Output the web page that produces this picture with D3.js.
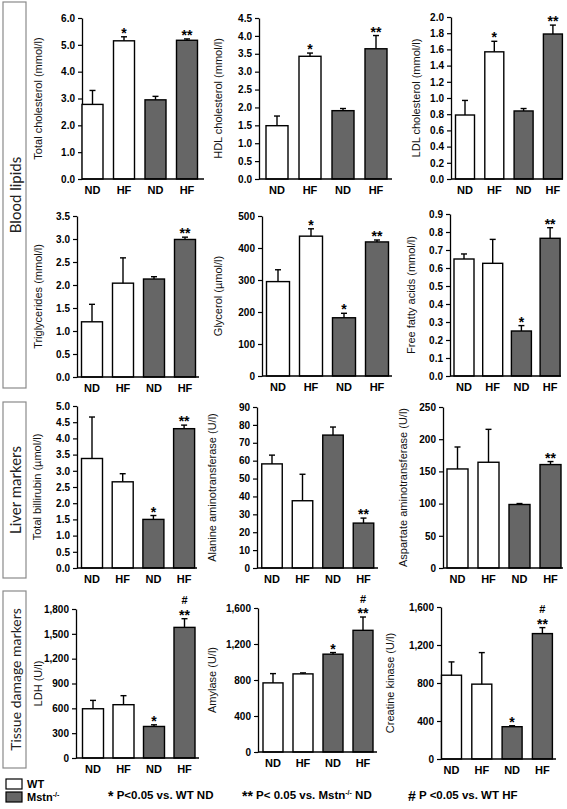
<!DOCTYPE html>
<html><head><meta charset="utf-8">
<script src="https://cdn.jsdelivr.net/npm/d3@7"></script>
<style>body{margin:0;background:#fff}svg{display:block}</style>
</head><body>
<svg id="c" width="567" height="809"></svg>
<script>
// ---------- data ----------
const categories = ["ND", "HF", "ND", "HF"];
const genotype = ["WT", "WT", "Mstn", "Mstn"];

const tcMean = [2.78, 5.15, 2.95, 5.17], tcErr = [3.30, 5.30, 3.08, 5.22], tcStar = ["", "*", "", "**"];
const hdlMean = [1.49, 3.43, 1.91, 3.64], hdlErr = [1.76, 3.52, 1.97, 4.01], hdlStar = ["", "*", "", "**"];
const ldlMean = [0.79, 1.57, 0.84, 1.79], ldlErr = [0.97, 1.70, 0.87, 1.90], ldlStar = ["", "*", "", "**"];
const tgMean = [1.20, 2.04, 2.13, 2.99], tgErr = [1.58, 2.59, 2.18, 3.04], tgStar = ["", "", "", "**"];
const glyMean = [295, 437, 182, 419], glyErr = [332, 460, 196, 425], glyStar = ["", "*", "*", "**"];
const ffaMean = [0.65, 0.626, 0.25, 0.765], ffaErr = [0.678, 0.759, 0.28, 0.824], ffaStar = ["", "", "*", "**"];
const biliMean = [3.38, 2.66, 1.50, 4.30], biliErr = [4.66, 2.91, 1.62, 4.41], biliStar = ["", "", "*", "**"];
const altMean = [58.2, 37.6, 74.3, 25.1], altErr = [63.1, 52.4, 78.8, 27.9], altStar = ["", "", "", "**"];
const astMean = [153.8, 164.2, 98.6, 160.6], astErr = [187.9, 215.3, 100.1, 165.3], astStar = ["", "", "", "**"];
const ldhMean = [595, 644, 381, 1578], ldhErr = [696, 753, 401, 1683], ldhStar = ["", "", "*", "**"];
const amyMean = [768, 868, 1087, 1352], amyErr = [871, 879, 1105, 1500], amyStar = ["", "", "*", "**"];
const ckMean = [882, 788, 340, 1320], ckErr = [1022, 1120, 350, 1383], ckStar = ["", "", "*", "**"];
const hashMarks = ["", "", "", "#"];
const noHash = ["", "", "", ""];

const titles = ["Total cholesterol (mmol/l)", "HDL cholesterol (mmol/l)", "LDL cholesterol (mmol/l)",
  "Triglycerides (mmol/l)", "Glycerol (µmol/l)", "Free fatty acids (mmol/l)",
  "Total billirubin (µmol/l)", "Alanine aminotransferase (U/l)", "Aspartate aminotransferase (U/l)",
  "LDH (U/l)", "Amylase (U/l)", "Creatine kinase (U/l)"];
const yMax = [6, 4.5, 2, 3.5, 500, 0.9, 5, 90, 250, 1800, 1600, 1600];
const yStep = [1, 0.5, 0.2, 0.5, 100, 0.1, 0.5, 10, 50, 300, 400, 400];
const tickFmt = [".1f", ".1f", ".1f", ".1f", "d", ".1f", ".1f", "d", "d", ",", ",", ","];

const sectionLabels = ["Blood lipids", "Liver markers", "Tissue damage markers"];
const legendSeries = ["WT", "Mstn"];
const sigNotes = [["*", " P<0.05 vs. WT ND"], ["**", " P< 0.05 vs. Mstn", " ND"], ["#", " P <0.05 vs. WT HF"]];

const panelData = [
  [tcMean, tcErr, tcStar, noHash], [hdlMean, hdlErr, hdlStar, noHash], [ldlMean, ldlErr, ldlStar, noHash],
  [tgMean, tgErr, tgStar, noHash], [glyMean, glyErr, glyStar, noHash], [ffaMean, ffaErr, ffaStar, noHash],
  [biliMean, biliErr, biliStar, noHash], [altMean, altErr, altStar, noHash], [astMean, astErr, astStar, noHash],
  [ldhMean, ldhErr, ldhStar, hashMarks], [amyMean, amyErr, amyStar, hashMarks], [ckMean, ckErr, ckStar, hashMarks]
];

// ---------- layout ----------
const layout = [
  {x0: 82, top: 18, zero: 179, c0: 92.5, st: 31.5, bw: 21, end: 204, tx: 38},
  {x0: 259, top: 18, zero: 179, c0: 277, st: 33, bw: 22, end: 392, tx: 218},
  {x0: 451, top: 17, zero: 179, c0: 465, st: 29.3, bw: 19, end: 563, tx: 416},
  {x0: 77, top: 216, zero: 377, c0: 92, st: 31, bw: 21, end: 199, tx: 38},
  {x0: 262, top: 216, zero: 376, c0: 278, st: 33, bw: 23, end: 392, tx: 218},
  {x0: 450, top: 214, zero: 376, c0: 464, st: 28.7, bw: 20, end: 561, tx: 411},
  {x0: 77, top: 406, zero: 568, c0: 92, st: 30.7, bw: 21, end: 197, tx: 37},
  {x0: 257, top: 407, zero: 568, c0: 272, st: 30.5, bw: 20.5, end: 378, tx: 212},
  {x0: 443, top: 407, zero: 568, c0: 457.5, st: 31, bw: 21, end: 563, tx: 403},
  {x0: 76, top: 609, zero: 758, c0: 93, st: 30.5, bw: 21, end: 199, tx: 38},
  {x0: 258, top: 608, zero: 752, c0: 273, st: 30, bw: 20, end: 377, tx: 212},
  {x0: 441, top: 607, zero: 759, c0: 451.5, st: 30.3, bw: 20, end: 556, tx: 390}
];
const sectionBoxes = [{y0: 2, y1: 388, fs: 15}, {y0: 402, y1: 578, fs: 15}, {y0: 591, y1: 768, fs: 14}];

const FONT = "'Liberation Sans', Arial, sans-serif";
const fillFor = g => g === "WT" ? "#ffffff" : "#666666";

const svg = d3.select("#c");

panelData.forEach((pd, p) => {
  const [mean, err, star, hash] = pd;
  const L = layout[p];
  const g = svg.append("g");
  const y = d3.scaleLinear().domain([0, yMax[p]]).range([L.zero, L.top]);
  const pi = 1 - L.bw / L.st;
  const x = d3.scaleBand().domain(d3.range(4))
    .range([L.c0 - L.st / 2, L.c0 + 3.5 * L.st]).paddingInner(pi).paddingOuter(pi / 2);

  const ticks = d3.range(0, yMax[p] + yStep[p] / 2, yStep[p]);
  const fmt = d3.format(tickFmt[p]);
  const ax = g.append("g").attr("transform", `translate(${L.x0},0)`)
    .call(d3.axisLeft(y).tickValues(ticks).tickFormat(fmt).tickSize(4).tickSizeOuter(0).tickPadding(3));
  ax.select(".domain").attr("stroke", "#000").attr("stroke-width", 1.3);
  ax.selectAll(".tick line").attr("stroke", "#000").attr("stroke-width", 1.2);
  ax.selectAll(".tick text").attr("font-family", FONT).attr("font-weight", "bold")
    .attr("font-size", 10).attr("fill", "#000");

  g.selectAll("rect.bar").data(mean).join("rect")
    .attr("x", (d, i) => x(i)).attr("width", x.bandwidth())
    .attr("y", d => y(d)).attr("height", d => y(0) - y(d))
    .attr("fill", (d, i) => fillFor(genotype[i]))
    .attr("stroke", "#000").attr("stroke-width", 1.4);

  g.selectAll("line.err").data(err).join("line")
    .attr("x1", (d, i) => x(i) + x.bandwidth() / 2).attr("x2", (d, i) => x(i) + x.bandwidth() / 2)
    .attr("y1", (d, i) => y(mean[i])).attr("y2", d => y(d))
    .attr("stroke", "#000").attr("stroke-width", 1.4);
  g.selectAll("line.cap").data(err).join("line")
    .attr("x1", (d, i) => x(i) + x.bandwidth() / 2 - 3).attr("x2", (d, i) => x(i) + x.bandwidth() / 2 + 3)
    .attr("y1", d => y(d)).attr("y2", d => y(d))
    .attr("stroke", "#000").attr("stroke-width", 1.4);

  g.append("line").attr("x1", L.x0).attr("x2", L.end).attr("y1", y(0)).attr("y2", y(0))
    .attr("stroke", "#000").attr("stroke-width", 1.3);
  g.selectAll("text.cat").data(categories).join("text")
    .attr("x", (d, i) => x(i) + x.bandwidth() / 2).attr("y", y(0) + 15)
    .attr("text-anchor", "middle").attr("font-family", FONT).attr("font-weight", "bold")
    .attr("font-size", 11).text(d => d);

  g.selectAll("text.star").data(star).join("text")
    .attr("x", (d, i) => x(i) + x.bandwidth() / 2).attr("y", (d, i) => y(err[i]) + 1)
    .attr("text-anchor", "middle").attr("font-family", FONT).attr("font-weight", "bold")
    .attr("font-size", 14).text(d => d);
  g.selectAll("text.hash").data(hash).join("text")
    .attr("x", (d, i) => x(i) + x.bandwidth() / 2).attr("y", (d, i) => y(err[i]) - 14.5)
    .attr("text-anchor", "middle").attr("font-family", FONT).attr("font-weight", "bold")
    .attr("font-size", 11).text(d => d);

  g.append("text").attr("transform", `translate(${L.tx},${(L.top + L.zero) / 2}) rotate(-90)`)
    .attr("text-anchor", "middle").attr("dominant-baseline", "central")
    .attr("font-family", FONT).attr("font-size", 11).attr("fill", "#111").text(titles[p]);
});

sectionBoxes.forEach((b, i) => {
  svg.append("rect").attr("x", 3).attr("y", b.y0).attr("width", 23).attr("height", b.y1 - b.y0)
    .attr("fill", "#fff").attr("stroke", "#8a8a8a").attr("stroke-width", 1.2);
  svg.append("text").attr("transform", `translate(15,${(b.y0 + b.y1) / 2}) rotate(-90)`)
    .attr("text-anchor", "middle").attr("dominant-baseline", "central")
    .attr("font-family", "Lato, 'Open Sans', sans-serif").attr("font-size", b.fs).attr("fill", "#222")
    .text(sectionLabels[i]);
});

legendSeries.forEach((s, i) => {
  svg.append("rect").attr("x", 6).attr("y", 779 + i * 13).attr("width", 16).attr("height", 10)
    .attr("fill", fillFor(s)).attr("stroke", "#000").attr("stroke-width", 1.2);
  const t = svg.append("text").attr("x", 27).attr("y", 788 + i * 13)
    .attr("font-family", FONT).attr("font-weight", "bold").attr("font-size", 11);
  t.append("tspan").text(s);
  if (s === "Mstn") t.append("tspan").attr("dy", -4).attr("font-size", 7).text("-/-");
});
const noteX = [108, 242, 408];
sigNotes.forEach((n, i) => {
  const t = svg.append("text").attr("x", noteX[i]).attr("y", 799)
    .attr("font-family", FONT).attr("font-weight", "bold").attr("font-size", 11.5);
  t.append("tspan").attr("font-size", 14).attr("dy", 2).text(n[0]);
  t.append("tspan").attr("dy", -2).text(n[1]);
  if (n.length > 2) {
    t.append("tspan").attr("dy", -4).attr("font-size", 7).text("-/-");
    t.append("tspan").attr("dy", 4).text(n[2]);
  }
});
</script>
</body></html>
